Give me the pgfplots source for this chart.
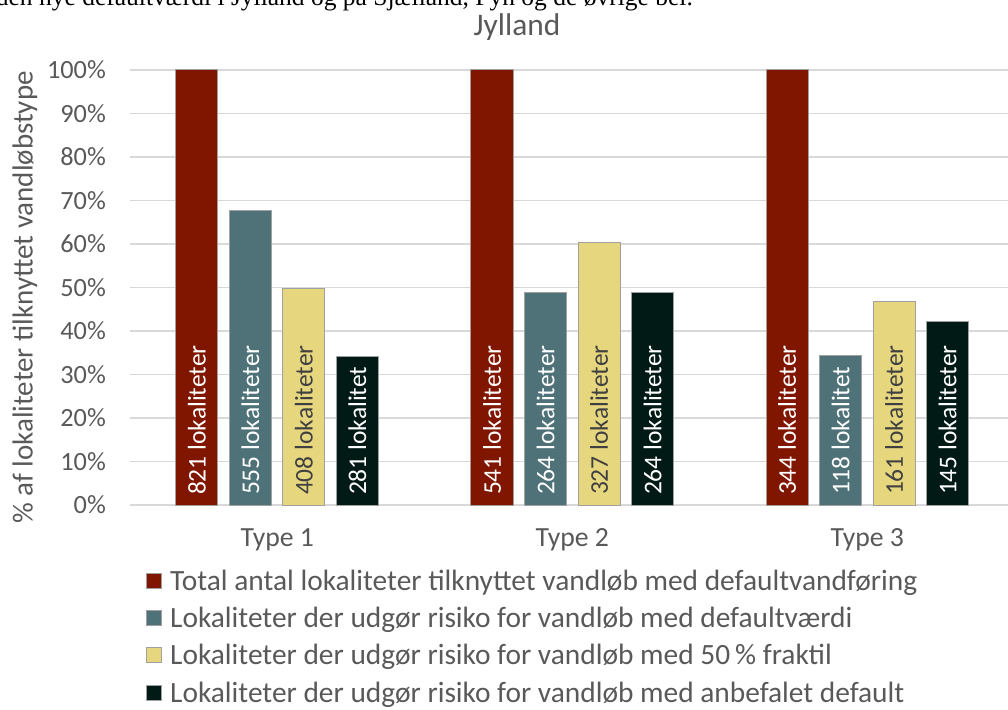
\documentclass[border=0pt]{standalone}
\usepackage{pgfplots}
\pgfplotsset{compat=1.18}
\usepackage{fontspec}
\setmainfont{Carlito}
\newfontfamily\docserif{Liberation Serif}
\definecolor{cred}{RGB}{128,21,0}
\definecolor{cteal}{RGB}{79,114,121}
\definecolor{cyellow}{RGB}{230,215,127}
\definecolor{cblack}{RGB}{1,26,22}
\definecolor{edgegray}{RGB}{160,160,160}
\definecolor{gridgray}{RGB}{217,217,217}
\definecolor{textgray}{RGB}{89,89,89}
\definecolor{labgray}{RGB}{64,64,64}
\begin{document}
\begin{tikzpicture}
\path[use as bounding box] (0pt,0pt) rectangle (1008pt,709pt);
\clip (0pt,0pt) rectangle (1008pt,709pt);
\node[anchor=base east, inner sep=0pt, font=\docserif\fontsize{25.5}{30}\selectfont] at (693pt,703pt) {den nye defaultværdi i Jylland og på Sjælland, Fyn og de øvrige bel.};
\begin{axis}[
  at={(130pt,204pt)}, anchor=south west,
  scale only axis, width=878pt, height=435pt,
  xmin=-0.499, xmax=2.477, ymin=0, ymax=100,
  ybar, bar width=0.1424,
  axis line style={draw=none},
  major tick length=0pt,
  ymajorgrids, grid style={gridgray, line width=1.2pt},
  xtick={0,1,2}, xticklabels={Type 1,Type 2,Type 3},
  ytick={0,10,...,100},
  yticklabel={\pgfmathprintnumber{\tick}\%},
  /pgf/number format/assume math mode=true,
  tick label style={text=textgray},
  xticklabel style={anchor=center, yshift=-35pt, font=\fontsize{27.7}{32}\selectfont},
  yticklabel style={anchor=east, inner sep=0pt, xshift=-24pt, font=\fontsize{26.3}{31}\selectfont},
  title={Jylland},
  title style={at={(0.4408,1.085)}, anchor=center, font=\fontsize{31.4}{37}\selectfont, text=textgray},
  ylabel={\% af lokaliteter tilknyttet vandløbstype},
  ylabel style={at={(axis description cs:-0.1196,0.477)}, anchor=center, font=\fontsize{29}{34}\selectfont, text=textgray},
  legend style={at={(0.0148,-0.140)}, anchor=north west, draw=none, fill=none,
    font=\fontsize{29.4}{34}\selectfont, text=textgray, row sep=11.3pt,
    nodes={inner sep=2pt},
    /tikz/every odd column/.append style={column sep=6pt}},
  legend cell align=left,
  legend image code/.code={\draw[#1] (0pt,-7.5pt) rectangle (15pt,7.5pt);},
  every axis plot/.append style={draw=edgegray, line width=1pt},
]
\addplot[fill=cred, bar shift=-0.272] coordinates {(0,100) (1,100) (2,100)};
\addlegendentry{Total antal lokaliteter tilknyttet vandløb med defaultvandføring}
\addplot[fill=cteal, bar shift=-0.0907] coordinates {(0,67.60) (1,48.80) (2,34.30)};
\addlegendentry{Lokaliteter der udgør risiko for vandløb med defaultværdi}
\addplot[fill=cyellow, bar shift=0.0907] coordinates {(0,49.70) (1,60.44) (2,46.80)};
\addlegendentry{Lokaliteter der udgør risiko for vandløb med 50\,\% fraktil}
\addplot[fill=cblack, bar shift=0.272] coordinates {(0,34.23) (1,48.80) (2,42.15)};
\addlegendentry{Lokaliteter der udgør risiko for vandløb med anbefalet default}

\pgfplotsset{lbl/.style={forget plot, sharp plot, bar shift=0pt, draw=none, mark=none, nodes near coords, point meta=explicit symbolic,
  nodes near coords style={rotate=90, anchor=west, inner sep=0pt, font=\fontsize{25.5}{30}\selectfont, text=#1}}}
\addplot[lbl=white] coordinates {(-0.272,2.2) [821 lokaliteter] (0.728,2.2) [541 lokaliteter] (1.728,2.2) [344 lokaliteter]};
\addplot[lbl=white] coordinates {(-0.0907,2.2) [555 lokaliteter] (0.9093,2.2) [264 lokaliteter] (1.9093,2.2) [118 lokalitet]};
\addplot[lbl=labgray] coordinates {(0.0907,2.2) [408 lokaliteter] (1.0907,2.2) [327 lokaliteter] (2.0907,2.2) [161 lokaliteter]};
\addplot[lbl=white] coordinates {(0.272,2.2) [281 lokalitet] (1.272,2.2) [264 lokaliteter] (2.272,2.2) [145 lokaliteter]};
\end{axis}
\end{tikzpicture}
\end{document}
